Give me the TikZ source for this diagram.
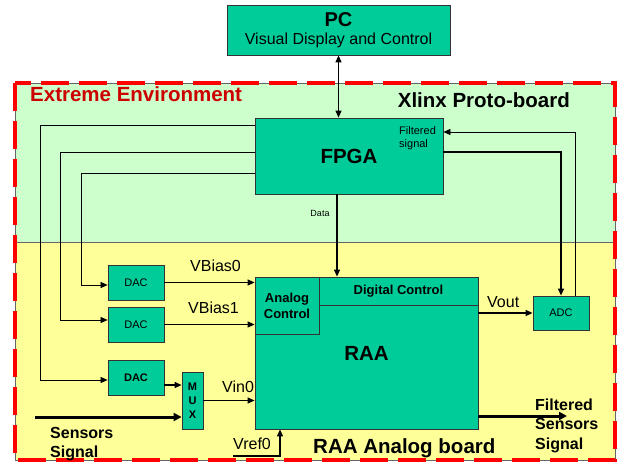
\documentclass[tikz,border=0pt]{standalone}
\usepackage{fontspec}
\setmainfont{Liberation Sans}
\usepackage{xcolor}
\usetikzlibrary{arrows.meta}

\definecolor{boxgreen}{RGB}{0,204,153}
\definecolor{protogreen}{RGB}{204,255,204}
\definecolor{analogyellow}{RGB}{255,255,153}
\definecolor{envred}{RGB}{204,0,0}

\tikzset{
  blk/.style={draw=black!80, fill=boxgreen, inner sep=0pt, line width=0.8pt},
  sig/.style={-{Triangle[length=7pt,width=6pt]}, line width=1.2pt},
  fatsig/.style={-{Triangle[length=8pt,width=8pt]}, line width=3pt},
  wire/.style={line width=0.7pt},
  big/.style={font=\fontsize{20.5}{24}\selectfont\bfseries},
  mid/.style={font=\fontsize{16}{19.5}\selectfont},
  midbold/.style={font=\fontsize{16}{19.5}\selectfont\bfseries},
  tiny/.style={font=\fontsize{11}{13}\selectfont},
}

\begin{document}
\begin{tikzpicture}[x=1pt,y=-1pt]
\useasboundingbox (0,0) rectangle (618,462);

% boards
\fill[protogreen, draw=black!60] (15,83) rectangle (615,242);
\fill[analogyellow, draw=black!60] (15,242) rectangle (615,460);
\draw[red, line width=4pt, dash pattern=on 28pt off 10pt] (15,83) rectangle (615,460);

\node[big, text=envred, anchor=base west, inner sep=0pt] (envlabel) at (30,102) {Extreme Environment};
\node[big, anchor=base east, inner sep=0pt] (protolabel) at (570,108) {Xlinx Proto-board};
\node[big, anchor=base west, inner sep=0pt] (analoglabel) at (313,453) {RAA Analog board};

% blocks
\node[blk, minimum width=223, minimum height=50, align=center, mid] (pc) at (338.5,30)
  {{\fontsize{20}{24}\selectfont\bfseries PC}\\[-2pt]Visual Display and Control};
\node[blk, big, minimum width=188, minimum height=76] (fpga) at (349,156) {FPGA};
\node[tiny, anchor=north west, align=left, inner sep=0pt] (filtlabel) at (399,126) {Filtered\\signal};
\node[font=\fontsize{9}{11}\selectfont] (datalabel) at (320,213) {Data};

\node[blk, tiny, minimum width=56, minimum height=35] (dac1) at (136,282.5) {DAC};
\node[blk, tiny, minimum width=56, minimum height=35] (dac2) at (136,324.5) {DAC};
\node[blk, tiny, minimum width=56, minimum height=35] (dac3) at (136,377.5) {\bfseries DAC};
\node[blk, align=center, minimum width=21, minimum height=57,
  font=\fontsize{11}{14}\selectfont\bfseries] (mux) at (192.5,400.5) {M\\U\\X};

\node[blk, big, minimum width=223, minimum height=152] (raa) at (366.5,353) {RAA};
\node[blk, minimum width=159, minimum height=28, font=\fontsize{13}{15}\selectfont\bfseries] (digctl) at (398.5,291) {Digital Control};
\node[blk, align=center, minimum width=64, minimum height=57, font=\fontsize{13}{16}\selectfont\bfseries] (anactl) at (287,305.5) {Analog\\Control};
\node[blk, tiny, minimum width=56, minimum height=34] (adc) at (561,313) {ADC};

% connections
\draw[sig, {Triangle[length=7pt,width=6pt]}-{Triangle[length=7pt,width=6pt]}] (pc.south) -- (fpga.north -| pc.south);
\draw[sig] (fpga.south -| 337,0) -- (digctl.north -| 337,0);

\draw[wire, -{Triangle[length=7pt,width=6pt]}] (fpga.west |- 0,125) -| (40,380) -- (dac3.west |- 0,380);
\draw[wire, -{Triangle[length=7pt,width=6pt]}] (fpga.west |- 0,152) -| (60,320) -- (dac2.west |- 0,320);
\draw[wire, -{Triangle[length=7pt,width=6pt]}] (fpga.west |- 0,173) -| (81,285) -- (dac1.west |- 0,285);

\draw[sig] (dac1.east) -- (raa.west |- dac1.east);
\draw[sig] (dac2.east) -- (raa.west |- dac2.east);
\draw[sig] (dac3.east |- 0,385) -- (mux.west |- 0,385);
\draw[sig] (mux.east) -- (raa.west |- mux.east);
\node[mid, anchor=base west, inner sep=0pt] (vb0) at (190,272) {VBias0};
\node[mid, anchor=base west, inner sep=0pt] (vb1) at (188,313) {VBias1};
\node[mid, anchor=base west, inner sep=0pt] (vin) at (222,392) {Vin0};

\coordinate (sensstart) at (35,417);
\draw[fatsig] (sensstart) -- (mux.west |- sensstart);
\node[midbold, anchor=north west, align=left, inner sep=0pt] (senslabel) at (50,427) {Sensors\\Signal};

\coordinate (vrefstart) at (233,456);
\draw[sig] (vrefstart) -| (raa.south -| 280,0);
\node[mid, anchor=base west, inner sep=0pt] (vreflabel) at (233,449) {Vref0};

\draw[sig] (raa.east |- adc.west) -- (adc.west);
\node[mid, anchor=base west, inner sep=0pt] (voutlabel) at (487,307) {Vout};

\draw[sig] (fpga.east |- 0,152) -| (adc.north);
\draw[wire, -{Triangle[length=7pt,width=6pt]}] (adc.north -| 575,0) |- (fpga.east |- 0,132);

\coordinate (filtend) at (567,416);
\draw[fatsig] (raa.east |- filtend) -- (filtend);
\node[midbold, anchor=north west, align=left, inner sep=0pt] (filtout) at (535,398.5) {Filtered\\Sensors\\Signal};

\end{tikzpicture}
\end{document}
